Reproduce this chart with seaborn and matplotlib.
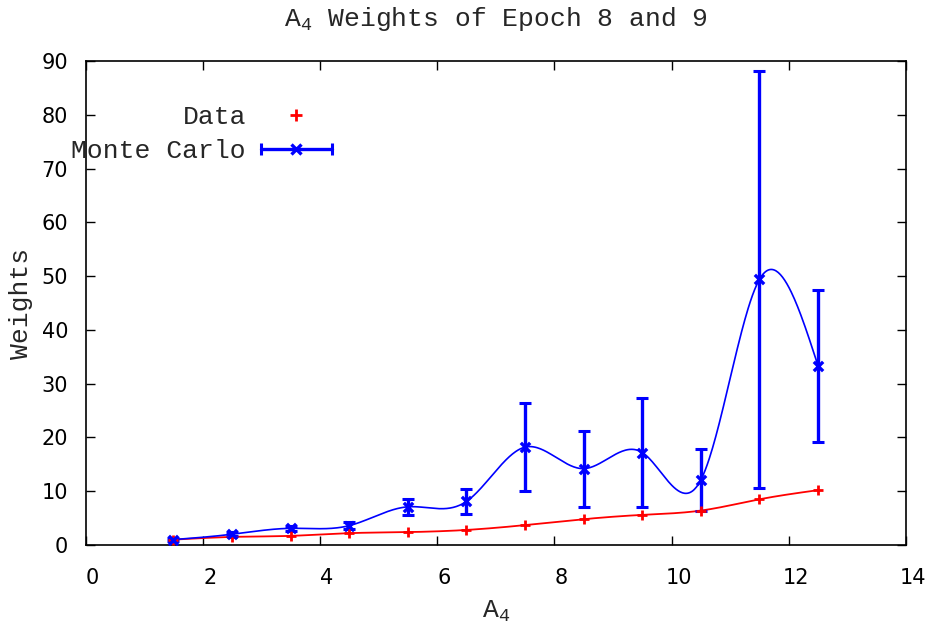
import numpy as np
import matplotlib
matplotlib.use("Agg")
import matplotlib.pyplot as plt
import matplotlib.transforms as mtransforms
from matplotlib.lines import Line2D
from matplotlib.legend_handler import HandlerBase
import seaborn as sns
import pandas as pd

# ---- data ----
a4_bins = [1.5, 2.5, 3.5, 4.5, 5.5, 6.5, 7.5, 8.5, 9.5, 10.5, 11.5, 12.5]
data_weights = [1.0, 1.5, 1.7, 2.2, 2.4, 2.8, 3.7, 4.8, 5.6, 6.4, 8.5, 10.2]
mc_weights = [1.0, 2.0, 3.1, 3.6, 7.1, 8.1, 18.2, 14.2, 17.2, 12.1, 49.4, 33.3]
mc_errors = [0.3, 0.4, 0.5, 0.6, 1.5, 2.3, 8.2, 7.05, 10.1, 5.7, 38.8, 14.2]
x_ticks = [0, 2, 4, 6, 8, 10, 12, 14]
y_ticks = [0, 10, 20, 30, 40, 50, 60, 70, 80, 90]

title_text = r"$\mathregular{A_4}$ Weights of Epoch 8 and 9"
xlabel_text = r"$\mathregular{A_4}$"
ylabel_text = "Weights"


def natural_spline(x, y, n=600):
    x = np.asarray(x, float)
    y = np.asarray(y, float)
    k = len(x)
    h = np.diff(x)
    A = np.zeros((k, k))
    b = np.zeros(k)
    A[0, 0] = 1.0
    A[-1, -1] = 1.0
    for i in range(1, k - 1):
        A[i, i - 1] = h[i - 1]
        A[i, i] = 2 * (h[i - 1] + h[i])
        A[i, i + 1] = h[i]
        b[i] = 6 * ((y[i + 1] - y[i]) / h[i] - (y[i] - y[i - 1]) / h[i - 1])
    M = np.linalg.solve(A, b)
    t = np.linspace(x[0], x[-1], n)
    idx = np.clip(np.searchsorted(x, t) - 1, 0, k - 2)
    x0, x1 = x[idx], x[idx + 1]
    hh = x1 - x0
    s = (M[idx] * (x1 - t) ** 3 / (6 * hh) + M[idx + 1] * (t - x0) ** 3 / (6 * hh)
         + (y[idx] / hh - M[idx] * hh / 6) * (x1 - t)
         + (y[idx + 1] / hh - M[idx + 1] * hh / 6) * (t - x0))
    return t, s


sns.set_style("ticks")
plt.rcParams["font.family"] = ["Liberation Mono", "DejaVu Sans"]
plt.rcParams["mathtext.fontset"] = "custom"
plt.rcParams["mathtext.rm"] = "Liberation Mono"

FS = 19

fig = plt.figure(figsize=(9.32, 6.24), dpi=100)
ax = fig.add_axes([85.5 / 932, 1 - 545 / 624, (906 - 85.5) / 932, (545 - 61) / 624])

RED = "#ff0000"
BLUE = "#0000ff"

tx, ty = natural_spline(a4_bins, data_weights)
bx, by = natural_spline(a4_bins, mc_weights)
df_d = pd.DataFrame({"x": tx, "y": ty})
df_m = pd.DataFrame({"x": bx, "y": by})

sns.lineplot(data=df_d, x="x", y="y", ax=ax, color=RED, lw=1.3, sort=False, zorder=3)
sns.lineplot(data=df_m, x="x", y="y", ax=ax, color=BLUE, lw=1.2, sort=False, zorder=4)

ax.errorbar(a4_bins, mc_weights, yerr=mc_errors, fmt="none", ecolor=BLUE,
            elinewidth=2.4, capsize=4, capthick=2.2, zorder=5)
pts = pd.DataFrame({"x": a4_bins, "d": data_weights, "m": mc_weights})
sns.scatterplot(data=pts, x="x", y="d", ax=ax, marker="+", s=55, color=RED,
                linewidth=2, zorder=6)
sns.scatterplot(data=pts, x="x", y="m", ax=ax, marker="x", s=45, color=BLUE,
                linewidth=2.4, zorder=7)

ax.set_xlim(0, 14)
ax.set_ylim(0, 90)
ax.set_xticks(x_ticks)
ax.set_yticks(y_ticks)
ax.set_xticklabels([str(v) for v in x_ticks], fontfamily="DejaVu Sans", fontsize=15)
ax.set_yticklabels([str(v) for v in y_ticks], fontfamily="DejaVu Sans", fontsize=15)
ax.tick_params(direction="in", length=6.5, width=1, top=True, right=True,
               colors="black")
ax.tick_params(axis="x", pad=16.5)
ax.tick_params(axis="y", pad=12.5)
offset = mtransforms.ScaledTranslation(7 / 100, 0, fig.dpi_scale_trans)
for lab in ax.get_xticklabels():
    lab.set_transform(lab.get_transform() + offset)
for sp in ax.spines.values():
    sp.set_visible(True)
    sp.set_linewidth(1.2)
    sp.set_color("black")

ax.set_xlabel(xlabel_text, fontsize=FS, labelpad=8)
ax.set_ylabel(ylabel_text, fontsize=FS, labelpad=6)
ax.set_title(title_text, fontsize=FS, pad=25)


class HandlerMC(HandlerBase):
    def create_artists(self, legend, orig_handle, xdescent, ydescent, width,
                       height, fontsize, trans):
        y = height / 2 - ydescent
        x0, x1 = -xdescent, width - xdescent
        line = Line2D([x0, x1], [y, y], color=BLUE, lw=2.4, transform=trans)
        caps = Line2D([x0, x1], [y, y], ls="none", marker="|", ms=8, mew=2.2,
                      color=BLUE, transform=trans)
        mk = Line2D([(x0 + x1) / 2], [y], ls="none", marker="x", ms=7, mew=2.4,
                    color=BLUE, transform=trans)
        return [line, caps, mk]


h_data = Line2D([], [], ls="none", marker="+", ms=8, mew=2, color=RED)
h_mc = Line2D([], [], color=BLUE)
leg = ax.legend([h_data, h_mc], ["Data", "Monte Carlo"],
                handler_map={h_mc: HandlerMC()},
                loc="upper right", bbox_to_anchor=(345 / 932, 1 - 92 / 624),
                bbox_transform=fig.transFigure, frameon=False, markerfirst=False,
                fontsize=FS, handlelength=2.7, handletextpad=0.55,
                borderpad=0, labelspacing=0.38, numpoints=1)

fig.savefig("out.png", dpi=100)
